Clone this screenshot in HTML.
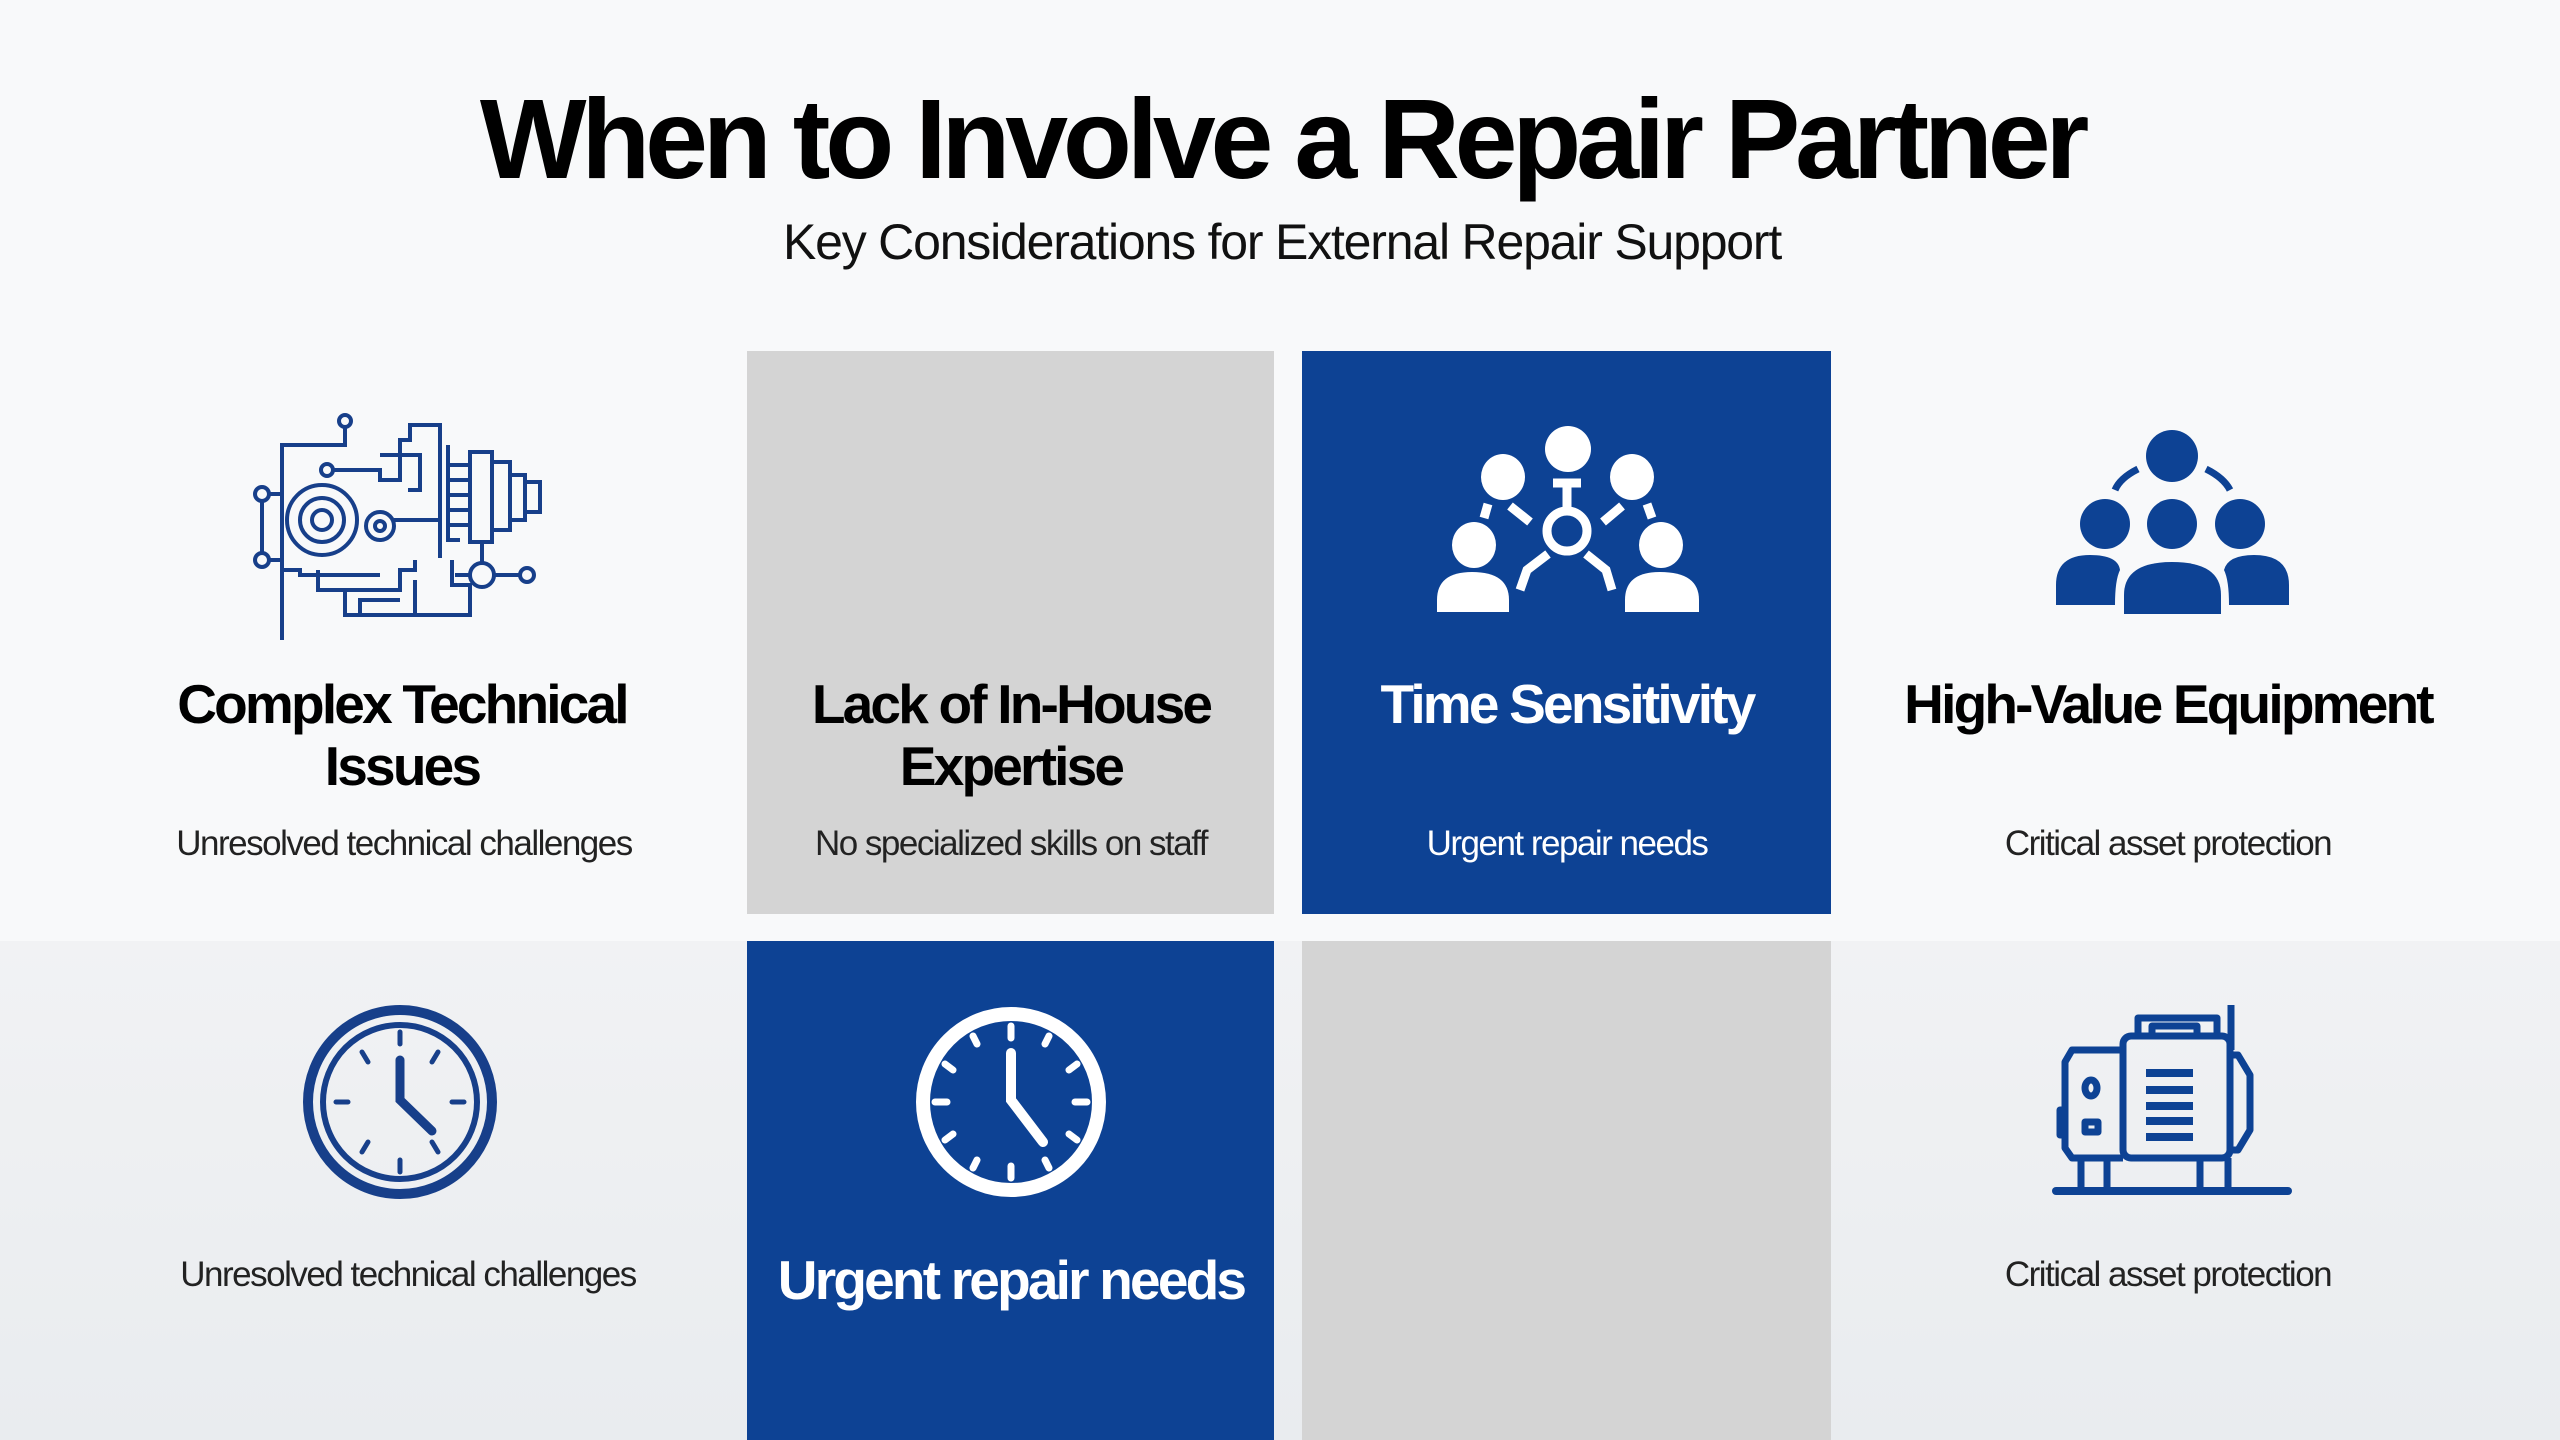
<!DOCTYPE html>
<html><head><meta charset="utf-8"><style>
html,body{margin:0;padding:0}
body{width:2560px;height:1440px;position:relative;overflow:hidden;font-family:"Liberation Sans",Arial,sans-serif;background:#f8f9fa}
.bg2{position:absolute;left:0;top:941px;width:2560px;height:499px;background:linear-gradient(180deg,#f1f2f4,#e9ecef)}
.cell{position:absolute}
.t{position:absolute;text-align:center;white-space:nowrap;transform:translateX(-50%)}
.h{font-weight:bold;font-size:55px;letter-spacing:-2.8px;line-height:62px;color:#000}
.s{font-size:35px;letter-spacing:-1.5px;color:#222}
</style></head><body>
<div class="bg2"></div>
<div class="cell" style="left:747px;top:351px;width:527px;height:563px;background:#d4d4d4"></div>
<div class="cell" style="left:1302px;top:351px;width:529px;height:563px;background:#0d4294"></div>
<div class="cell" style="left:747px;top:941px;width:527px;height:499px;background:#0d4294"></div>
<div class="cell" style="left:1302px;top:941px;width:529px;height:499px;background:#d4d4d4"></div>

<div class="t" style="left:1282px;top:74px;font-size:113px;font-weight:bold;letter-spacing:-5.2px;color:#000">When to Involve a Repair Partner</div>
<div class="t" style="left:1282px;top:213px;font-size:50px;letter-spacing:-1.2px;color:#111">Key Considerations for External Repair Support</div>

<div class="t h" style="left:402px;top:673px">Complex Technical<br>Issues</div>
<div class="t s" style="left:404px;top:824px">Unresolved technical challenges</div>
<div class="t h" style="left:1011px;top:673px">Lack of In-House<br>Expertise</div>
<div class="t s" style="left:1011px;top:824px">No specialized skills on staff</div>
<div class="t h" style="left:1567px;top:673px;color:#fff">Time Sensitivity</div>
<div class="t s" style="left:1567px;top:824px;color:#fff">Urgent repair needs</div>
<div class="t h" style="left:2168px;top:673px">High-Value Equipment</div>
<div class="t s" style="left:2168px;top:824px">Critical asset protection</div>

<div class="t s" style="left:408px;top:1255px">Unresolved technical challenges</div>
<div class="t h" style="left:1011px;top:1249px;color:#fff">Urgent repair needs</div>
<div class="t s" style="left:2168px;top:1255px">Critical asset protection</div>

<svg width="2560" height="1440" style="position:absolute;left:0;top:0">
<g fill="none" stroke="#173f8a" stroke-width="4">
<circle cx="345" cy="421" r="6"/><path d="M345 427V445H282V640"/>
<circle cx="262" cy="494" r="7"/><circle cx="262" cy="560" r="7"/>
<path d="M262 501V553M269 494H282M269 560H282"/>
<circle cx="327" cy="470" r="6"/><path d="M333 470H380V480H400V440H410V425H440V450"/>
<path d="M380 455H420V490H408"/>
<circle cx="322" cy="520" r="35"/><circle cx="322" cy="520" r="22"/><circle cx="322" cy="520" r="10"/>
<circle cx="380" cy="526" r="14"/><circle cx="380" cy="526" r="5"/>
<path d="M394 520H440M440 450V545M448 445V540H460M448 465H470M448 480H470M448 495H470M448 510H470M448 525H470"/>
<rect x="470" y="452" width="22" height="90"/><path d="M492 462H510V530H492M510 475H525V520H510M525 482H540V512H525"/>
<path d="M282 570H300V575H380M318 570V590H400V570H415V560M345 590V615H415V580M360 615V600H400"/>
<path d="M452 560V585H470V615H345M440 545V558"/>
<circle cx="482" cy="575" r="12"/><path d="M494 575H520"/><circle cx="527" cy="575" r="7"/><path d="M482 563V540M470 575H455"/>
</g>
<g fill="#fff">
<ellipse cx="1568" cy="449" rx="23" ry="23"/>
<ellipse cx="1503" cy="477" rx="22" ry="23"/><ellipse cx="1632" cy="477" rx="22" ry="23"/>
<ellipse cx="1474" cy="545" rx="22" ry="23"/><ellipse cx="1661" cy="545" rx="22" ry="23"/>
<path d="M1437 612V600Q1437 572 1472 572Q1509 572 1509 600V612Z"/>
<path d="M1625 612V600Q1625 572 1660 572Q1699 572 1699 600V612Z"/>
</g>
<g fill="none" stroke="#fff" stroke-width="9">
<circle cx="1567" cy="531" r="20"/><path d="M1567 510V483M1553 483H1581M1510 506L1530 522M1622 506L1603 522M1488 504L1484 518M1647 504L1652 518M1548 554L1527 570L1520 590M1586 554L1606 570L1612 590"/>
</g>
<g fill="#0d4294">
<ellipse cx="2172" cy="456" rx="26" ry="26"/>
<ellipse cx="2105" cy="524" rx="25" ry="25"/><ellipse cx="2172" cy="524" rx="25" ry="25"/><ellipse cx="2240" cy="524" rx="25" ry="25"/>
<path d="M2056 605V585Q2056 555 2090 555Q2118 555 2120 570Q2115 580 2115 605Z"/>
<path d="M2229 605Q2229 580 2224 570Q2228 555 2254 555Q2289 555 2289 585V605Z"/>
<path d="M2124 614V595Q2124 562 2172 562Q2221 562 2221 595V614Z"/>
</g>
<path d="M2115 490Q2120 478 2138 469M2206 469Q2224 478 2230 490" fill="none" stroke="#0d4294" stroke-width="7"/>
<g fill="none" stroke="#173f8a" stroke-linecap="round">
<circle cx="400" cy="1102" r="92" stroke-width="10"/>
<circle cx="400" cy="1102" r="77" stroke-width="6"/>
<path d="M400 1060V1100L432 1131" stroke-width="9"/>
<path d="M400 1032V1044M400 1160V1172M336 1102H348M452 1102H464M362 1052L368 1062M438 1052L432 1062M362 1152L368 1142M438 1152L432 1142" stroke-width="5"/>
</g>
<g fill="none" stroke="#fff" stroke-linecap="round">
<circle cx="1011" cy="1102" r="88" stroke-width="14"/>
<path d="M1011 1053V1100L1043 1142" stroke-width="10"/>
<path d="M1011 1026V1038M1011 1166V1178M935 1102H947M1075 1102H1087M973 1036L977 1044M1049 1036L1045 1044M973 1168L977 1160M1049 1168L1045 1160M945 1064L953 1070M1077 1064L1069 1070M945 1140L953 1134M1077 1140L1069 1134" stroke-width="7"/>
</g>
<g fill="none" stroke="#0d4294" stroke-width="7" stroke-linejoin="round">
<path d="M2138 1036V1018H2217V1036M2152 1036V1026H2197V1036"/>
<rect x="2123" y="1036" width="107" height="122" rx="8"/>
<path d="M2123 1050H2072L2065 1062V1148L2072 1158H2123"/>
<path d="M2067 1110H2060V1135H2067"/>
<path d="M2230 1055H2238L2250 1075V1130L2238 1150H2230"/>
<path d="M2231 1005V1050"/>
<ellipse cx="2091" cy="1088" rx="6" ry="8"/><rect x="2085" y="1122" width="13" height="10"/>
<path d="M2146 1073H2193M2146 1090H2193M2146 1106H2193M2146 1121H2193M2146 1137H2193" stroke-width="8"/>
<path d="M2081 1158V1187M2107 1158V1187M2228 1158V1187M2200 1158V1187"/>
<path d="M2056 1191H2288" stroke-width="8" stroke-linecap="round"/>
</g>
</svg>
</body></html>
